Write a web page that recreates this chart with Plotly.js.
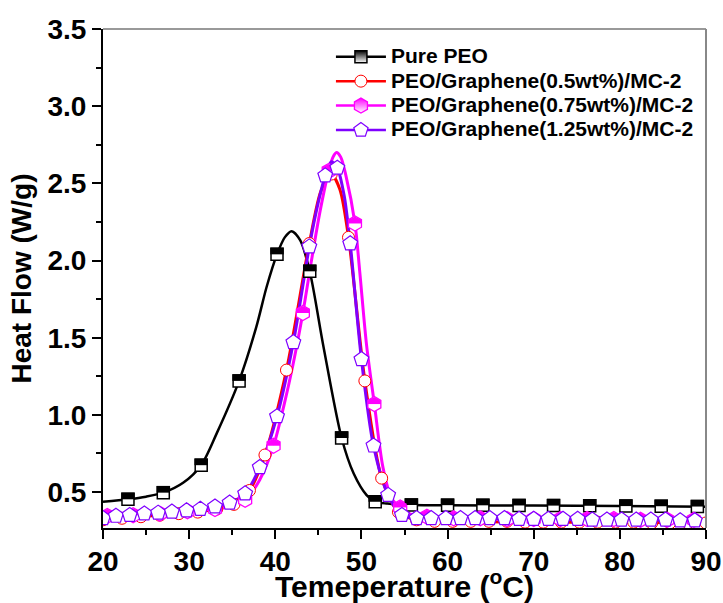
<!DOCTYPE html>
<html><head><meta charset="utf-8">
<script src="https://cdn.plot.ly/plotly-3.0.1.min.js"></script>
<style>html,body{margin:0;padding:0;background:#fff}</style>
</head><body><div id="chart" style="width:723px;height:603px"></div>
<script>
// ---- Pure PEO ----
const pureT = [20, 22.9, 25, 27, 29.3, 31.4, 33.2, 35.8, 37.8, 39, 40.2, 41.1, 41.9, 42.9, 44.0, 45.6, 47.7, 49.1, 50.6, 51.6, 53, 55.8, 60, 70, 80, 90];
const pureY = [0.437, 0.453, 0.47, 0.496, 0.56, 0.674, 0.88, 1.22, 1.57, 1.83, 2.04, 2.15, 2.19, 2.13, 1.93, 1.44, 0.85, 0.62, 0.48, 0.437, 0.425, 0.416, 0.415, 0.412, 0.409, 0.405];
const pureMarkT = [22.9, 27.0, 31.4, 35.8, 40.2, 44.0, 47.7, 51.6, 55.8, 60.0, 64.1, 68.3, 72.3, 76.5, 80.7, 84.8, 89.0];
const pureMarkY = [0.453, 0.496, 0.674, 1.22, 2.04, 1.93, 0.85, 0.437, 0.416, 0.415, 0.414, 0.413, 0.412, 0.411, 0.409, 0.408, 0.406];

// ---- PEO/Graphene(0.5wt%)/MC-2 ----
const g05T = [20, 24.4, 28.8, 33.2, 35.2, 37.0, 38.8, 41.3, 43.95, 45.3, 46.5, 47.5, 48.5, 50.4, 52.35, 54.3, 56.4, 60, 70, 80, 90];
const g05Y = [0.32, 0.34, 0.36, 0.39, 0.42, 0.51, 0.74, 1.29, 2.11, 2.45, 2.56, 2.46, 2.15, 1.22, 0.59, 0.37, 0.32, 0.31, 0.305, 0.305, 0.30];
const g05MarkT = [20.0, 22.2, 24.4, 26.6, 28.8, 31.0, 33.2, 35.2, 37.0, 38.8, 41.3, 43.95, 46.5, 48.5, 50.4, 52.35, 54.3, 56.4, 58.5, 60.6, 62.7, 64.8, 66.9, 69.0, 71.1, 73.2, 75.3, 77.4, 79.5, 81.6, 83.7, 85.8, 87.9, 90.0];
const g05MarkY = [0.32, 0.33, 0.34, 0.35, 0.36, 0.37, 0.39, 0.42, 0.51, 0.74, 1.29, 2.11, 2.56, 2.15, 1.22, 0.59, 0.37, 0.32, 0.31, 0.31, 0.31, 0.31, 0.31, 0.305, 0.305, 0.305, 0.305, 0.305, 0.305, 0.305, 0.30, 0.30, 0.30, 0.30];

// ---- PEO/Graphene(0.75wt%)/MC-2 ----
const g075T = [20, 24, 28, 32, 35, 36.8, 38.2, 39.8, 41.0, 42.0, 43.2, 44.2, 45.2, 46.2, 46.7, 47.1, 47.6, 48.2, 49.25, 49.8, 50.6, 51.5, 52.5, 53.5, 54.5, 56, 60, 70, 80, 90];
const g075Y = [0.34, 0.355, 0.37, 0.385, 0.41, 0.47, 0.58, 0.80, 1.06, 1.31, 1.66, 2.0, 2.32, 2.58, 2.67, 2.70, 2.67, 2.55, 2.24, 1.93, 1.45, 1.07, 0.66, 0.46, 0.40, 0.35, 0.33, 0.325, 0.325, 0.32];
const g075MarkT = [20.5, 23.5, 26.6, 29.8, 33.0, 36.5, 39.8, 43.2, 46.2, 49.25, 51.5, 54.5, 57.6, 60.7, 63.8, 66.9, 70.0, 73.1, 76.2, 79.3, 82.4, 85.5, 88.6];
const g075MarkY = [0.345, 0.35, 0.36, 0.375, 0.39, 0.45, 0.80, 1.66, 2.58, 2.24, 1.07, 0.40, 0.34, 0.33, 0.33, 0.325, 0.325, 0.325, 0.325, 0.325, 0.32, 0.32, 0.32];

// ---- PEO/Graphene(1.25wt%)/MC-2 ----
const g125T = [20, 21.5, 24.8, 28, 31.3, 34.7, 36.5, 38.2, 40.2, 42.1, 43.95, 45.0, 45.8, 46.5, 47.2, 48.0, 48.7, 50.0, 51.4, 53.1, 54.7, 56.4, 60, 70, 80, 90];
const g125Y = [0.33, 0.345, 0.36, 0.372, 0.39, 0.43, 0.49, 0.66, 0.99, 1.47, 2.09, 2.38, 2.55, 2.64, 2.60, 2.42, 2.11, 1.36, 0.80, 0.48, 0.35, 0.33, 0.33, 0.325, 0.32, 0.315];
const g125MarkT = [20.0, 21.5, 23.1, 24.8, 26.4, 28.0, 29.7, 31.3, 33.0, 34.7, 36.5, 38.2, 40.2, 42.1, 43.95, 45.8, 47.2, 48.7, 50.0, 51.4, 53.1, 54.7, 56.4, 58.1, 59.8, 61.5, 63.2, 64.9, 66.6, 68.3, 70.0, 71.7, 73.4, 75.1, 76.8, 78.5, 80.2, 81.9, 83.6, 85.3, 87.0, 88.7];
const g125MarkY = [0.33, 0.345, 0.35, 0.36, 0.365, 0.372, 0.38, 0.39, 0.405, 0.43, 0.49, 0.66, 0.99, 1.47, 2.09, 2.55, 2.60, 2.11, 1.36, 0.80, 0.48, 0.35, 0.33, 0.33, 0.33, 0.33, 0.33, 0.33, 0.33, 0.325, 0.325, 0.325, 0.325, 0.325, 0.32, 0.32, 0.32, 0.32, 0.32, 0.32, 0.315, 0.315];

const seriesNames = ['Pure PEO', 'PEO/Graphene(0.5wt%)/MC-2', 'PEO/Graphene(0.75wt%)/MC-2', 'PEO/Graphene(1.25wt%)/MC-2'];
const xTitle = 'Temeperature (<sup>o</sup>C)';
const yTitle = 'Heat Flow (W/g)';

// ---- styling / geometry ----
const BLACK = '#000000', RED = '#ff0000', MAG = '#ff00ff', PUR = '#7f00ff';
const W = 723, H = 603, M = {l: 103, r: 17, t: 29, b: 75};
const Y0 = 0.267, Y1 = 3.5;
const pxPerUnit = (H - M.t - M.b) / (Y1 - Y0);
const shifted = (px) => ({overlaying: 'y', visible: false, range: [Y0 - px / pxPerUnit, Y1 - px / pxPerUnit], fixedrange: true});
const LINE_SYM = 1.4;               // plotly line-* symbols span 1.4*size

const SQ = 12, SQW = 1.5;          // square marker size / outline
const SQO = SQ + SQW;               // outer square side
const HX = 15;                      // hexagon marker size
const HXr = HX / 2, HXrt = HXr * Math.sqrt(3) / 2, HXrh = HXr / 2;

function curve(x, y, color, width) {
  return {x, y, type: 'scatter', mode: 'lines', line: {color, width, shape: 'spline', smoothing: 0.8}, showlegend: false, hoverinfo: 'skip'};
}
function pts(x, y, marker, yaxis) {
  return {x, y, type: 'scatter', mode: 'markers', marker, yaxis: yaxis || 'y', showlegend: false, hoverinfo: 'skip'};
}
function legendItem(name, color, marker) {
  return {x: [null], y: [null], type: 'scatter', mode: 'lines+markers', name: '<span style="font-size:21px">' + name + '</span>', line: {color, width: 2.5}, marker};
}

const data = [
  curve(pureT, pureY, BLACK, 2.5),
  curve(g05T, g05Y, RED, 3),
  curve(g075T, g075Y, MAG, 3),
  curve(g125T, g125Y, PUR, 3),
  pts(pureMarkT, pureMarkY, {symbol: 'square', size: SQ, color: '#fff', line: {color: BLACK, width: SQW}}),
  pts(g05MarkT, g05MarkY, {symbol: 'circle', size: 12, color: '#fff', line: {color: RED, width: 1}}),
  pts(g075MarkT, g075MarkY, {symbol: 'hexagon', size: HX, color: '#fff', line: {color: MAG, width: 1.3}}),
  // filled top halves
  pts(pureMarkT, pureMarkY, {symbol: 'line-ew', size: SQO / LINE_SYM, color: BLACK, line: {color: BLACK, width: SQO / 2}}, 'y2'),
  pts(g075MarkT, g075MarkY, {symbol: 'line-ew', size: 2 * HXrt / LINE_SYM, color: MAG, line: {color: MAG, width: HXrh}}, 'y3'),
  pts(g075MarkT, g075MarkY, {symbol: 'diamond-wide', size: 9.2, color: MAG, line: {width: 0}}, 'y4'),
  pts(g125MarkT, g125MarkY, {symbol: 'pentagon', size: 15.5, color: '#fff', line: {color: PUR, width: 1.2}}, 'y5'),
  // legend
  legendItem(seriesNames[0], BLACK, {symbol: 'square', size: SQ, color: BLACK, gradient: {type: 'vertical', color: '#fff'}, line: {color: BLACK, width: SQW}}),
  legendItem(seriesNames[1], RED, {symbol: 'circle', size: 12, color: '#fff', line: {color: RED, width: 1}}),
  legendItem(seriesNames[2], MAG, {symbol: 'hexagon', size: HX, color: MAG, gradient: {type: 'vertical', color: '#fff'}, line: {color: MAG, width: 1.3}}),
  legendItem(seriesNames[3], PUR, {symbol: 'pentagon', size: 15, color: '#fff', line: {color: PUR, width: 1.2}})
];

const FONT = 'Liberation Sans, Arial, sans-serif';
const layout = {
  width: W, height: H, margin: M,
  paper_bgcolor: '#fff', plot_bgcolor: '#fff',
  font: {family: FONT, color: '#000', weight: 'bold'},
  showlegend: true,
  legend: {x: 0.378, y: 0.979, xanchor: 'left', yanchor: 'top', bgcolor: 'rgba(0,0,0,0)', borderwidth: 0,
           font: {family: FONT, size: 16.5, color: '#000', weight: 'bold'}, itemwidth: 50, tracegroupgap: 0},
  xaxis: {range: [20, 90], tick0: 20, dtick: 10, showgrid: false, zeroline: false,
          showline: true, linecolor: BLACK, linewidth: 2, ticks: 'outside', ticklen: 9, tickwidth: 2, tickcolor: BLACK,
          tickfont: {size: 28, family: FONT, weight: 'bold'}, ticklabelstandoff: -2,
          minor: {dtick: 5, tick0: 25, ticks: 'outside', ticklen: 5, tickwidth: 2, tickcolor: BLACK, showgrid: false},
          title: {text: xTitle, font: {size: 30, family: FONT, weight: 'bold'}, standoff: 9}, fixedrange: true},
  yaxis: {range: [Y0, Y1], tick0: 0.5, dtick: 0.5, tickformat: '.1f', showgrid: false, zeroline: false,
          showline: true, linecolor: BLACK, linewidth: 2, ticks: 'outside', ticklen: 9, tickwidth: 2, tickcolor: BLACK,
          tickfont: {size: 28, family: FONT, weight: 'bold'},
          minor: {dtick: 0.25, tick0: 0.25, ticks: 'outside', ticklen: 5, tickwidth: 2, tickcolor: BLACK, showgrid: false},
          title: {text: yTitle, font: {size: 28, family: FONT, weight: 'bold'}, standoff: 8}, fixedrange: true},
  yaxis2: shifted(SQO / 4),
  yaxis3: shifted(HXrh / 2),
  yaxis4: shifted(HXrh),
  yaxis5: shifted(0),
  shapes: [
    {type: 'line', xref: 'paper', yref: 'paper', x0: 0, x1: 1, y0: 1, y1: 1, line: {color: '#999', width: 2}},
    {type: 'line', xref: 'paper', yref: 'paper', x0: 1, x1: 1, y0: 0, y1: 1, line: {color: '#888', width: 2}}
  ]
};
Plotly.newPlot('chart', data, layout, {staticPlot: true, displayModeBar: false});
</script></body></html>
